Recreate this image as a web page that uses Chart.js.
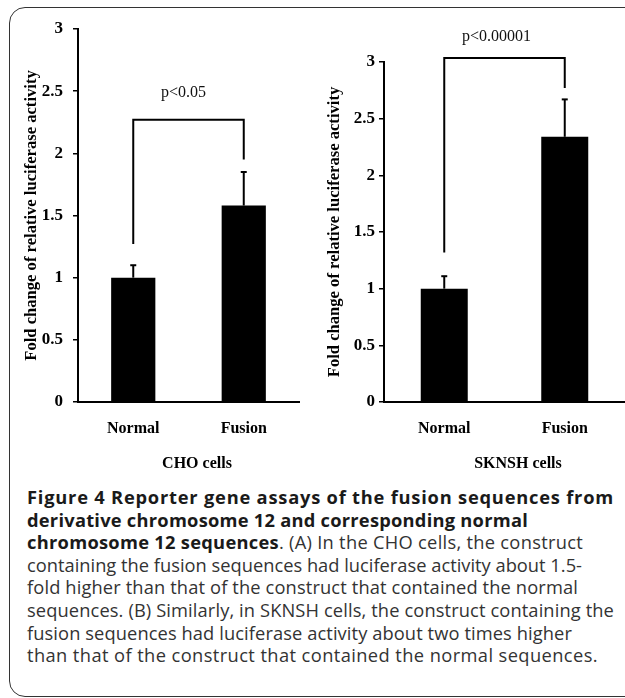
<!DOCTYPE html>
<html>
<head>
<meta charset="utf-8">
<script src="https://cdn.jsdelivr.net/npm/chart.js@4.4.1/dist/chart.umd.min.js"></script>
<style>
html,body{margin:0;padding:0;background:#fff;width:625px;height:698px;overflow:hidden;}
#frame{position:absolute;left:9px;top:7px;width:660px;height:690px;border:1.5px solid #333;border-radius:16px;box-sizing:border-box;}
#c1{position:absolute;left:0;top:0;}
#c2{position:absolute;left:312px;top:0;}
#cap{position:absolute;left:27px;top:486px;font-family:'Open Sans';font-size:18.3px;line-height:22.6px;color:#333;}
#cap .ln{width:max-content;white-space:nowrap;}
#cap b{font-weight:700;color:#1a1a1a;}
</style>
</head>
<body>
<div id="frame"></div>
<canvas id="c1" width="312" height="480"></canvas>
<canvas id="c2" width="313" height="480"></canvas>
<div id="cap">
<div class="ln" data-w="587"><b>Figure 4 Reporter gene assays of the fusion sequences from</b></div>
<div class="ln" data-w="501"><b>derivative chromosome 12 and corresponding normal</b></div>
<div class="ln" data-w="556"><b>chromosome 12 sequences</b>. (A) In the CHO cells, the construct</div>
<div class="ln" data-w="555">containing the fusion sequences had luciferase activity about 1.5-</div>
<div class="ln" data-w="551">fold higher than that of the construct that contained the normal</div>
<div class="ln" data-w="587">sequences. (B) Similarly, in SKNSH cells, the construct containing the</div>
<div class="ln" data-w="545">fusion sequences had luciferase activity about two times higher</div>
<div class="ln" data-w="571">than that of the construct that contained the normal sequences.</div>
</div>
<script>
const categories = ['Normal', 'Fusion'];
const yTickLabels = ['0', '0.5', '1', '1.5', '2', '2.5', '3'];
const choMeans = [1.00, 1.58];
const choErrors = [0.10, 0.27];
const sknshMeans = [1.00, 2.34];
const sknshErrors = [0.11, 0.33];
// bracket: [bar level, left leg bottom, right leg bottom]
const choBracket = [2.27, 1.27, 1.95];
const sknshBracket = [3.035, 1.32, 2.77];
const pLabels = ['p<0.05', 'p<0.00001'];
const panelTitles = ['CHO cells', 'SKNSH cells'];
const yTitle = 'Fold change of relative luciferase activity';

const SERIF = '"Liberation Serif", "Times New Roman", serif';

function fitCaption() {
  document.querySelectorAll('#cap .ln').forEach(el => {
    const target = +el.dataset.w;
    const n = el.textContent.length;
    el.style.letterSpacing = '0px';
    const w = el.getBoundingClientRect().width;
    el.style.letterSpacing = ((target - w) / n).toFixed(3) + 'px';
  });
}
fitCaption();
if (document.fonts && document.fonts.ready) document.fonts.ready.then(fitCaption);

const annot = {
  id: 'annot',
  afterDatasetsDraw(chart, args, o) {
    const ctx = chart.ctx, xs = chart.scales.x, ys = chart.scales.y;
    const meta = chart.getDatasetMeta(0);
    ctx.save();
    ctx.strokeStyle = '#000';
    ctx.lineWidth = 2;
    meta.data.forEach((bar, i) => {
      const top = ys.getPixelForValue(o.means[i] + o.errors[i]);
      ctx.beginPath(); ctx.moveTo(bar.x, bar.y); ctx.lineTo(bar.x, top); ctx.stroke();
      ctx.beginPath(); ctx.moveTo(bar.x - 3, top); ctx.lineTo(bar.x + 3, top); ctx.stroke();
    });
    const x0 = xs.getPixelForValue(0), x1 = xs.getPixelForValue(1);
    const yb = ys.getPixelForValue(o.bracket[0]);
    ctx.beginPath();
    ctx.moveTo(x0, ys.getPixelForValue(o.bracket[1]));
    ctx.lineTo(x0, yb);
    ctx.lineTo(x1, yb);
    ctx.lineTo(x1, ys.getPixelForValue(o.bracket[2]));
    ctx.stroke();
    ctx.fillStyle = '#111';
    ctx.textAlign = 'center';
    ctx.textBaseline = 'alphabetic';
    ctx.font = '16px ' + SERIF;
    ctx.fillText(o.pLabel, (x0 + x1) / 2 + o.pDx, yb - o.pDy);
    ctx.fillStyle = '#000';
    ctx.font = 'bold 16px ' + SERIF;
    ctx.fillText(o.title, o.titleX, o.titleY);
    ctx.restore();
  }
};

function makeChart(id, means, errors, bracket, pLabel, title, opt) {
  return new Chart(document.getElementById(id), {
    type: 'bar',
    data: {
      labels: categories,
      datasets: [{
        data: means,
        backgroundColor: '#000',
        borderWidth: 0,
        barPercentage: opt.barPct,
        categoryPercentage: 1
      }]
    },
    options: {
      responsive: false,
      animation: false,
      devicePixelRatio: 1,
      layout: { padding: { top: opt.top, right: opt.right, bottom: 0, left: 0 } },
      plugins: {
        legend: { display: false },
        tooltip: { enabled: false },
        annot: {
          means, errors, bracket, pLabel, title,
          pDx: opt.pDx, pDy: opt.pDy, titleX: opt.titleX, titleY: opt.titleY
        }
      },
      scales: {
        x: {
          grid: { display: false, drawTicks: false },
          border: { display: true, color: '#000', width: 2 },
          ticks: { color: '#000', padding: 17, font: { family: SERIF, size: 16, weight: 'bold' } },
          afterFit: s => { s.height = opt.xh; }
        },
        y: {
          min: 0, max: 3,
          ticks: {
            stepSize: 0.5, color: '#000', padding: opt.tickPad,
            font: { family: SERIF, size: 17, weight: 'bold' },
            callback: (v, i) => yTickLabels[i]
          },
          grid: { drawOnChartArea: false, drawTicks: true, tickLength: 5, color: '#000', lineWidth: 1.5 },
          border: { display: true, color: '#000', width: 2 },
          title: {
            display: true, text: yTitle, color: '#000',
            font: { family: SERIF, size: 16.6, weight: 'bold' },
            padding: { top: opt.titlePad, bottom: 0 }
          },
          afterFit: s => { s.width = opt.yw; }
        }
      }
    },
    plugins: [annot]
  });
}

makeChart('c1', choMeans, choErrors, choBracket, pLabels[0], panelTitles[0], {
  barPct: 0.4, top: 29, right: 13, xh: 78, yw: 78, tickPad: 10, titlePad: 22,
  pDx: -5, pDy: 23, titleX: 197, titleY: 468
});
makeChart('c2', sknshMeans, sknshErrors, sknshBracket, pLabels[1], panelTitles[1], {
  barPct: 0.39, top: 62, right: 0, xh: 78, yw: 72, tickPad: 4, titlePad: 13,
  pDx: -8, pDy: 17, titleX: 206, titleY: 468
});
</script>
</body>
</html>
